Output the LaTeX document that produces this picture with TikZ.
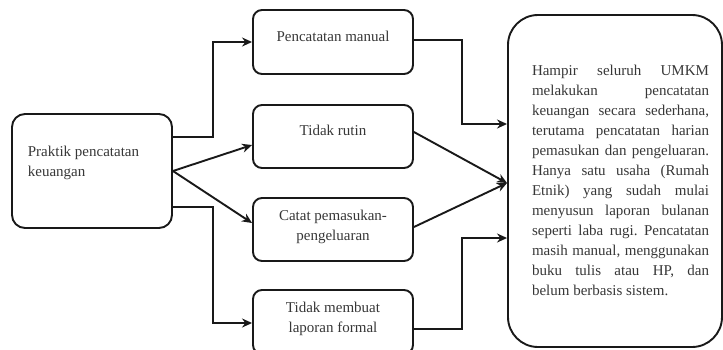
\documentclass[tikz,border=0pt]{standalone}
\usepackage{fontspec}
\setmainfont{Liberation Serif}
\usepackage{tikz}
\usetikzlibrary{positioning,arrows.meta}
\definecolor{inkgray}{RGB}{25,25,25}
\definecolor{textgray}{RGB}{55,55,55}
\tolerance=10000
\frenchspacing

\begin{document}
\begin{tikzpicture}[
  x=1pt, y=-1pt,
  box/.style={rectangle, draw=inkgray, line width=1.9pt, rounded corners=9pt, minimum width=160pt, minimum height=64pt, inner sep=0pt},
  txt/.style={font=\fontsize{15}{20}\selectfont, text=textgray, align=center, inner sep=0pt},
  line/.style={draw=inkgray, line width=1.9pt, -{Stealth[length=10pt, width=9pt]}}
]
  \clip (0,0) rectangle (723,349);

  % Nodes
  \node[box, minimum height=114pt, rounded corners=13pt,
    label={[txt, align=left, xshift=-8.5pt, yshift=8pt]center:Praktik pencatatan\\keuangan}] (praktik) at (92,171) {};

  \node[box, label={[txt, yshift=6pt]center:Pencatatan manual}] (manual) at (333,42) {};
  \node[box, minimum height=63pt, label={[txt, yshift=6pt]center:Tidak rutin}] (rutin) at (333,136.5) {};
  \node[box, minimum height=63pt, label={[txt, yshift=3pt]center:Catat pemasukan-\\pengeluaran}] (catat) at (333,229.5) {};
  \node[box, label={[txt, yshift=3.5pt]center:Tidak membuat\\laporan formal}] (formal) at (333,322) {};

  \node[box, minimum width=214pt, minimum height=332pt, rounded corners=30pt,
    label={[txt, align=justify, text width=177pt, xshift=5.5pt, yshift=1pt]center:
    Hampir seluruh UMKM\linebreak
    melakukan pencatatan\linebreak
    keuangan secara sederhana,\linebreak
    terutama pencatatan harian\linebreak
    pemasukan dan pengeluaran.\linebreak
    Hanya satu usaha (Rumah\linebreak
    Etnik) yang sudah mulai\linebreak
    menyusun laporan bulanan\linebreak
    seperti laba rugi. Pencatatan\linebreak
    masih manual, menggunakan\linebreak
    buku tulis atau HP, dan\linebreak
    belum berbasis sistem.}] (ringkasan) at (615,181) {};

  % Arrows
  \path[line] ([yshift=34pt]praktik.east) -- ++(40,0) |- (manual.west);
  \path[line] (praktik.east) -- ([yshift=-8.5pt]rutin.west);
  \path[line] (praktik.east) -- ([yshift=6.5pt]catat.west);
  \path[line] ([yshift=-36pt]praktik.east) -- ++(40,0) |- ([yshift=-1pt]formal.west);

  \path[line] ([yshift=2pt]manual.east) -- ++(48,0) |- ([yshift=57pt]ringkasan.west);
  \path[line] ([yshift=4.5pt]rutin.east) -- ([yshift=-2pt]ringkasan.west);
  \path[line] ([yshift=2.5pt]catat.east) -- ([yshift=-2pt]ringkasan.west);
  \path[line] ([yshift=-7pt]formal.east) -- ++(48,0) |- ([yshift=-57pt]ringkasan.west);

\end{tikzpicture}
\end{document}
